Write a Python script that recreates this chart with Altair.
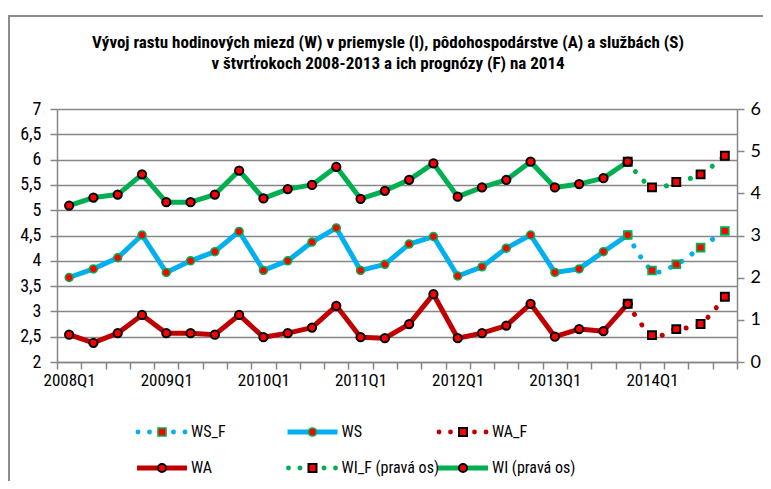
import altair as alt
import pandas as pd

# ---------------- data ----------------
quarters = ["2008Q1", "2008Q2", "2008Q3", "2008Q4",
            "2009Q1", "2009Q2", "2009Q3", "2009Q4",
            "2010Q1", "2010Q2", "2010Q3", "2010Q4",
            "2011Q1", "2011Q2", "2011Q3", "2011Q4",
            "2012Q1", "2012Q2", "2012Q3", "2012Q4",
            "2013Q1", "2013Q2", "2013Q3", "2013Q4",
            "2014Q1", "2014Q2", "2014Q3", "2014Q4"]
hist_q = quarters[:24]
fc_q = quarters[23:]          # forecast starts at the last observed quarter

# services (left axis)
ws = [3.67, 3.84, 4.06, 4.51, 3.77, 4.00, 4.18, 4.58,
      3.81, 4.00, 4.37, 4.65, 3.81, 3.93, 4.33, 4.48,
      3.70, 3.88, 4.25, 4.51, 3.77, 3.84, 4.18, 4.51]
ws_f = [4.51, 3.81, 3.93, 4.26, 4.59]
# agriculture (left axis)
wa = [2.54, 2.38, 2.57, 2.93, 2.57, 2.57, 2.54, 2.93,
      2.49, 2.57, 2.68, 3.11, 2.49, 2.47, 2.75, 3.34,
      2.47, 2.57, 2.72, 3.15, 2.50, 2.65, 2.61, 3.15]
wa_f = [3.15, 2.53, 2.65, 2.75, 3.29]
# industry (right axis)
wi = [3.71, 3.90, 3.97, 4.45, 3.79, 3.79, 3.97, 4.54,
      3.88, 4.10, 4.20, 4.63, 3.87, 4.06, 4.32, 4.71,
      3.92, 4.14, 4.32, 4.75, 4.14, 4.22, 4.36, 4.75]
wi_f = [4.75, 4.14, 4.27, 4.45, 4.89]

left_ticks = [2, 2.5, 3, 3.5, 4, 4.5, 5, 5.5, 6, 6.5, 7]
right_ticks = [0, 1, 2, 3, 4, 5, 6]

legend_names = ["WS_F", "WS", "WA_F", "WA", "WI_F (pravá os)", "WI (pravá os)"]

title_lines = ["Vývoj rastu hodinových miezd (W) v priemysle (I), pôdohospodárstve (A) a službách (S)",
               "v štvrťrokoch 2008-2013 a ich prognózy (F) na 2014"]

# ---------------- styles ----------------
NARROW = "Liberation Sans Narrow, Arial Narrow, Noto Sans Condensed, Roboto Condensed, DejaVu Sans Condensed, sans-serif"
BLUE = "#00B0F0"
DARKRED = "#C00000"
GREEN = "#00B050"
RED = "#FF0000"
GRAY = "#868686"
W, H = 680, 253


def frame(q, v):
    return pd.DataFrame({"q": q, "v": v})


x_enc = alt.X(
    "q:N",
    scale=alt.Scale(type="band", domain=quarters, paddingInner=0, paddingOuter=0),
    bandPosition=0.5,
    sort=None,
    axis=alt.Axis(
        title=None, tickBand="extent", labelAngle=0, labelOverlap=False,
        labelExpr="indexof(datum.label, 'Q1') > 0 ? datum.label : ''",
        labelFont=NARROW, labelFontSize=17, labelColor="#000000", labelPadding=3,
        tickSize=7, tickColor=GRAY, tickWidth=1.5,
        domainColor=GRAY, domainWidth=1.5, grid=False,
    ),
)

y_left = alt.Y(
    "v:Q",
    scale=alt.Scale(domain=[2, 7], nice=False, zero=False),
    axis=alt.Axis(
        title=None, values=left_ticks,
        labelExpr="replace(format(datum.value, '.1~f'), '.', ',')",
        labelFont=NARROW, labelFontSize=18, labelColor="#000000", labelPadding=9,
        tickSize=7, tickColor=GRAY, tickWidth=1.5,
        domainColor=GRAY, domainWidth=1.5,
        grid=True, gridColor=GRAY, gridWidth=1.3,
    ),
)

y_right = alt.Y(
    "v:Q",
    scale=alt.Scale(domain=[0, 6], nice=False, zero=False),
    axis=alt.Axis(
        title=None, orient="right", values=right_ticks, format="d",
        labelFont="Lato, Open Sans, sans-serif", labelFontSize=18, labelColor="#000000", labelPadding=6,
        tickSize=7, tickColor=GRAY, tickWidth=1.5,
        domainColor=GRAY, domainWidth=1.5, grid=False,
    ),
)


def solid(df, color, y):
    return alt.Chart(df).mark_line(color=color, strokeWidth=5, strokeJoin="round").encode(x=x_enc, y=y)


def dotted(df, color, y):
    return alt.Chart(df).mark_line(
        color=color, strokeWidth=5, strokeDash=[0.1, 12.5], strokeCap="round",
        interpolate="cardinal",
    ).encode(x=x_enc, y=y)


def markers(df, shape, stroke, sw, size, y):
    return alt.Chart(df).mark_point(
        shape=shape, filled=True, fill=RED, stroke=stroke, strokeWidth=sw,
        size=size, opacity=1, fillOpacity=1,
    ).encode(x=x_enc, y=y)


d_ws, d_wsf = frame(hist_q, ws), frame(fc_q, ws_f)
d_wa, d_waf = frame(hist_q, wa), frame(fc_q, wa_f)
d_wi, d_wif = frame(hist_q, wi), frame(fc_q, wi_f)

left = alt.layer(
    dotted(d_wsf, BLUE, y_left),
    solid(d_ws, BLUE, y_left),
    dotted(d_waf, DARKRED, y_left),
    solid(d_wa, DARKRED, y_left),
    markers(d_wsf, "square", GREEN, 1.8, 60, y_left),
    markers(d_ws, "circle", GREEN, 1.6, 62, y_left),
    markers(d_waf, "square", "#000000", 2, 62, y_left),
    markers(d_wa, "circle", "#000000", 2, 68, y_left),
)
right = alt.layer(
    dotted(d_wif, GREEN, y_right),
    solid(d_wi, GREEN, y_right),
    markers(d_wif, "square", "#000000", 2, 62, y_right),
    markers(d_wi, "circle", "#000000", 2, 68, y_right),
)

# ---------------- legend (two rows, three columns below the plot) ----------------
leg_style = {
    "WS_F": ("dots", BLUE, "square", GREEN),
    "WS": ("line", BLUE, "circle", GREEN),
    "WA_F": ("dots", DARKRED, "square", "#000000"),
    "WA": ("line", DARKRED, "circle", "#000000"),
    "WI_F (pravá os)": ("dots", GREEN, "square", "#000000"),
    "WI (pravá os)": ("line", GREEN, "circle", "#000000"),
}
leg_layers = []
for i, name in enumerate(legend_names):
    col, row = i % 3, i // 3
    cx = 105 + 150.5 * col
    cy = 323 + 36 * row
    kind, color, shape, mstroke = leg_style[name]
    if kind == "line":
        seg = pd.DataFrame({"x": [cx - 25], "x2": [cx + 25], "y": [cy]})
        leg_layers.append(alt.Chart(seg).mark_rule(color=color, strokeWidth=5).encode(
            x=alt.X("x:Q", scale=None, axis=None), x2="x2:Q", y=alt.Y("y:Q", scale=None, axis=None)))
    else:
        dots = pd.DataFrame({"x": [cx - 24, cx - 12.5, cx + 11.5, cx + 23], "y": [cy] * 4})
        leg_layers.append(alt.Chart(dots).mark_circle(color=color, size=24, opacity=1).encode(
            x=alt.X("x:Q", scale=None, axis=None), y=alt.Y("y:Q", scale=None, axis=None)))
    mk = pd.DataFrame({"x": [cx], "y": [cy]})
    leg_layers.append(alt.Chart(mk).mark_point(
        shape=shape, filled=True, fill=RED, stroke=mstroke, strokeWidth=2 if mstroke == "#000000" else 1.6,
        size=64, opacity=1).encode(
        x=alt.X("x:Q", scale=None, axis=None), y=alt.Y("y:Q", scale=None, axis=None)))
    tx = pd.DataFrame({"x": [cx + 29], "y": [cy], "t": [name]})
    leg_layers.append(alt.Chart(tx).mark_text(
        align="left", baseline="middle", font=NARROW, fontSize=16, color="#000000").encode(
        x=alt.X("x:Q", scale=None, axis=None), y=alt.Y("y:Q", scale=None, axis=None), text="t:N"))

# chart-area border
border = alt.Chart(pd.DataFrame({"a": [0]})).mark_rect(
    fill=None, stroke="#8C8C8C", strokeWidth=2).encode(
    x=alt.value(-48), x2=alt.value(W + 60), y=alt.value(-93), y2=alt.value(H + 200))

chart = alt.layer(border, left, right, *leg_layers).resolve_scale(y="independent").properties(
    width=W, height=H,
    autosize=alt.AutoSizeParams(type="none"),
    padding={"left": 49, "top": 101, "right": 26, "bottom": 119},
    background="white",
    title=alt.TitleParams(
        text=title_lines, anchor="middle", frame="group", font=NARROW, fontSize=17,
        fontWeight="bold", color="#000000", lineHeight=21, offset=-58, dx=-9,
    ),
).configure_view(stroke=None)

chart.save("out.html", embed_options={"renderer": "svg", "actions": False})
